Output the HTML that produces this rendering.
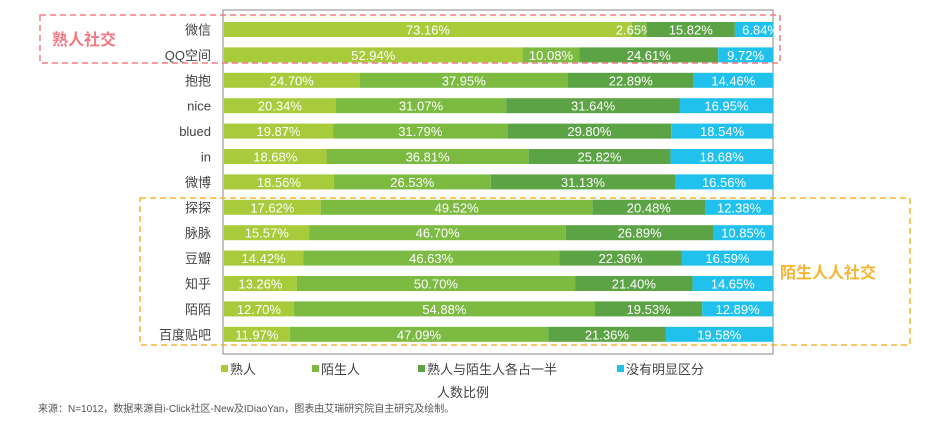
<!DOCTYPE html>
<html><head><meta charset="utf-8"><style>
body{margin:0;background:#fff;width:927px;height:417px;overflow:hidden;font-family:"Liberation Sans","Noto Sans CJK SC",sans-serif}
svg text{font-family:"Liberation Sans","Noto Sans CJK SC",sans-serif}
</style></head><body>
<svg id="chart" width="927" height="417">
<rect x="223" y="10" width="550" height="344" fill="none" stroke="#888" stroke-width="1"/>
<g id="bars"></g>
<rect x="40" y="15" width="740" height="48" fill="none" stroke="#f07b84" stroke-width="1.5" stroke-dasharray="6,4"/>
<text x="52" y="45" font-size="16" font-weight="bold" fill="#f07b84">熟人社交</text>
<rect x="140" y="198" width="770" height="147" fill="none" stroke="#f6b532" stroke-width="1.5" stroke-dasharray="6,4"/>
<text x="780" y="278" font-size="16" font-weight="bold" fill="#f6b532">陌生人人社交</text>
<g id="legend"></g>
<text x="463" y="397" font-size="13" fill="#444" text-anchor="middle">人数比例</text>
<text x="38" y="412" font-size="10" fill="#555">来源：N=1012，数据来源自i-Click社区-New及IDiaoYan，图表由艾瑞研究院自主研究及绘制。</text>
</svg>
<script>
const categories=["微信","QQ空间","抱抱","nice","blued","in","微博","探探","脉脉","豆瓣","知乎","陌陌","百度贴吧"];
const acquaintance=[73.16,52.94,24.70,20.34,19.87,18.68,18.56,17.62,15.57,14.42,13.26,12.70,11.97];
const stranger=[2.65,10.08,37.95,31.07,31.79,36.81,26.53,49.52,46.70,46.63,50.70,54.88,47.09];
const half=[15.82,24.61,22.89,31.64,29.80,25.82,31.13,20.48,26.89,22.36,21.40,19.53,21.36];
const noDiff=[6.84,9.72,14.46,16.95,18.54,18.68,16.56,12.38,10.85,16.59,14.65,12.89,19.58];
const seriesNames=["熟人","陌生人","熟人与陌生人各占一半","没有明显区分"];
const colors=["#a8cb3b","#7dba42","#5ba344","#21c1ee"];
const NS="http://www.w3.org/2000/svg";
const x0=224,x1=773,y0=22,pitch=25.4,bh=15;
const series=[acquaintance,stranger,half,noDiff];
const g=document.getElementById('bars');
categories.forEach((c,i)=>{
  const y=y0+i*pitch;
  const total=series.reduce((s,a)=>s+a[i],0);
  const sx=v=>v/total*(x1-x0);
  let cx=x0;
  const t=document.createElementNS(NS,'text');
  
  
  t.setAttribute('x',211);t.setAttribute('y',y+bh/2+5);t.setAttribute('text-anchor','end');
  t.setAttribute('font-size','13');t.setAttribute('fill','#444');t.textContent=c;g.appendChild(t);
  series.forEach((arr,k)=>{
    const w=sx(arr[i]);
    const r=document.createElementNS(NS,'rect');
    
    
    r.setAttribute('x',cx);r.setAttribute('y',y);r.setAttribute('width',w);r.setAttribute('height',bh);
    r.setAttribute('fill',colors[k]);g.appendChild(r);
    const l=document.createElementNS(NS,'text');
    
    
    if(w<40){l.setAttribute('x',cx+w+6);l.setAttribute('text-anchor','end');}
    else{l.setAttribute('x',cx+w/2);l.setAttribute('text-anchor','middle');}
    l.setAttribute('y',y+bh/2+5);
    l.setAttribute('font-size','13');l.setAttribute('fill','#fff');l.textContent=arr[i].toFixed(2)+'%';
    g.appendChild(l);
    cx+=w;
  });
});
const lg=document.getElementById('legend');
const lx=[221,312,418,617];
seriesNames.forEach((n,k)=>{
  const r=document.createElementNS(NS,'rect');
  
  
  r.setAttribute('x',lx[k]);r.setAttribute('y',365);r.setAttribute('width',7);r.setAttribute('height',7);
  r.setAttribute('fill',colors[k]);lg.appendChild(r);
  const t=document.createElementNS(NS,'text');
  
  
  t.setAttribute('x',lx[k]+9);t.setAttribute('y',374);t.setAttribute('font-size','13');t.setAttribute('fill','#444');
  t.textContent=n;lg.appendChild(t);
});
</script>
</body></html>
